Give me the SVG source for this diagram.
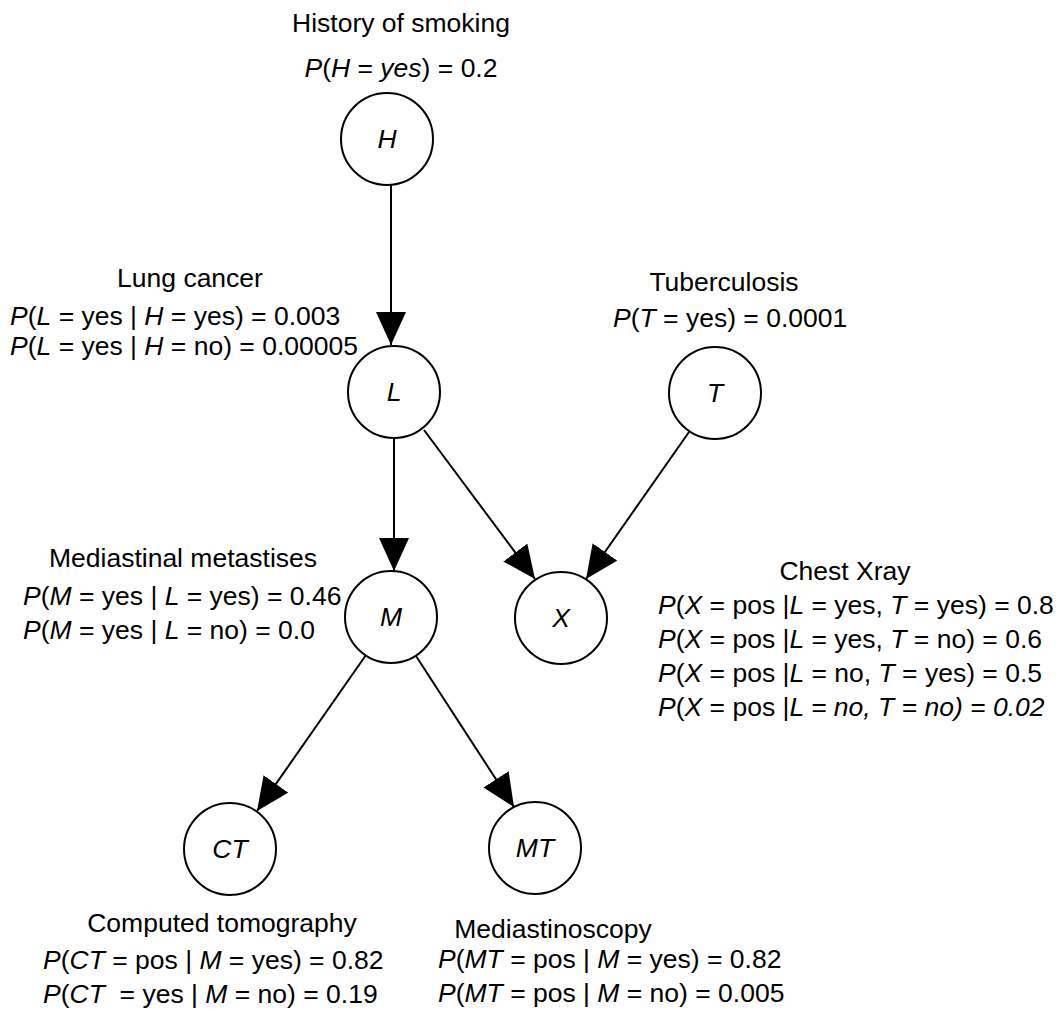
<svg xmlns="http://www.w3.org/2000/svg" width="1060" height="1012" viewBox="0 0 1060 1012">
<style>
text{font-family:"Liberation Sans",Arial,sans-serif;font-size:26.5px;fill:#000;white-space:pre}
.i{font-style:italic}
.m{text-anchor:middle}
.node circle{fill:#fff;stroke:#000;stroke-width:2}
.edge{stroke:#000;stroke-width:2;fill:none;marker-end:url(#ah)}
</style>
<defs>
<marker id="ah" markerUnits="userSpaceOnUse" markerWidth="34" markerHeight="32" refX="33" refY="15" orient="auto">
<path d="M0,0 L33,15 L0,30 Z" fill="#000"/>
</marker>
</defs>
<rect width="1060" height="1012" fill="#fff"/>
<g id="connectors">
<line class="edge" x1="391" y1="185" x2="391" y2="345"/>
<line class="edge" x1="394" y1="438" x2="394" y2="571"/>
<line class="edge" x1="424" y1="430" x2="535" y2="579"/>
<line class="edge" x1="689" y1="432" x2="586" y2="579"/>
<line class="edge" x1="366" y1="655" x2="257" y2="811"/>
<line class="edge" x1="416" y1="656" x2="514" y2="807"/>
</g>
<g id="H" class="node">
<circle cx="387" cy="139" r="46"/>
<text class="i m" x="387" y="148">H</text>
<text class="m" x="401" y="32">History of smoking</text>
<text class="m" x="401" y="77"><tspan class="i">P</tspan>(<tspan class="i">H</tspan> = <tspan class="i">yes</tspan>) = 0.2</text>
</g>
<g id="L" class="node">
<circle cx="394" cy="392" r="46"/>
<text class="i m" x="394" y="401">L</text>
<text class="m" x="190" y="287">Lung cancer</text>
<text x="10" y="325"><tspan class="i">P</tspan>(<tspan class="i">L</tspan> = yes | <tspan class="i">H</tspan> = yes) = 0.003</text>
<text x="10" y="355"><tspan class="i">P</tspan>(<tspan class="i">L</tspan> = yes | <tspan class="i">H</tspan> = no) = 0.00005</text>
</g>
<g id="T" class="node">
<circle cx="715" cy="393" r="46"/>
<text class="i m" x="715" y="402">T</text>
<text class="m" x="724" y="291">Tuberculosis</text>
<text x="613" y="327"><tspan class="i">P</tspan>(<tspan class="i">T</tspan> = yes) = 0.0001</text>
</g>
<g id="M" class="node">
<circle cx="391" cy="617" r="46"/>
<text class="i m" x="391" y="626">M</text>
<text class="m" x="183" y="567">Mediastinal metastises</text>
<text x="23" y="605"><tspan class="i">P</tspan>(<tspan class="i">M</tspan> = yes | <tspan class="i">L</tspan> = yes) = 0.46</text>
<text x="23" y="639"><tspan class="i">P</tspan>(<tspan class="i">M</tspan> = yes | <tspan class="i">L</tspan> = no) = 0.0</text>
</g>
<g id="X" class="node">
<circle cx="561" cy="618" r="46"/>
<text class="i m" x="561" y="627">X</text>
<text class="m" x="845" y="580">Chest Xray</text>
<text x="658" y="614"><tspan class="i">P</tspan>(<tspan class="i">X</tspan> = pos |<tspan class="i">L</tspan> = yes, <tspan class="i">T</tspan> = yes) = 0.8</text>
<text x="658" y="648"><tspan class="i">P</tspan>(<tspan class="i">X</tspan> = pos |<tspan class="i">L</tspan> = yes, <tspan class="i">T</tspan> = no) = 0.6</text>
<text x="658" y="682"><tspan class="i">P</tspan>(<tspan class="i">X</tspan> = pos |<tspan class="i">L</tspan> = no, <tspan class="i">T</tspan> = yes) = 0.5</text>
<text x="658" y="716"><tspan class="i">P</tspan>(<tspan class="i">X</tspan> = pos |<tspan class="i">L = no, T = no) = 0.02</tspan></text>
</g>
<g id="CT" class="node">
<circle cx="230" cy="849" r="46"/>
<text class="i m" x="230" y="858">CT</text>
<text class="m" x="222" y="932">Computed tomography</text>
<text x="43" y="969"><tspan class="i">P</tspan>(<tspan class="i">CT</tspan> = pos | <tspan class="i">M</tspan> = yes) = 0.82</text>
<text x="43" y="1003"><tspan class="i">P</tspan>(<tspan class="i">CT</tspan>  = yes | <tspan class="i">M</tspan> = no) = 0.19</text>
</g>
<g id="MT" class="node">
<circle cx="535" cy="848" r="46"/>
<text class="i m" x="535" y="857">MT</text>
<text class="m" x="553" y="938">Mediastinoscopy</text>
<text x="438" y="968"><tspan class="i">P</tspan>(<tspan class="i">MT</tspan> = pos | <tspan class="i">M</tspan> = yes) = 0.82</text>
<text x="438" y="1002"><tspan class="i">P</tspan>(<tspan class="i">MT</tspan> = pos | <tspan class="i">M</tspan> = no) = 0.005</text>
</g>
</svg>
